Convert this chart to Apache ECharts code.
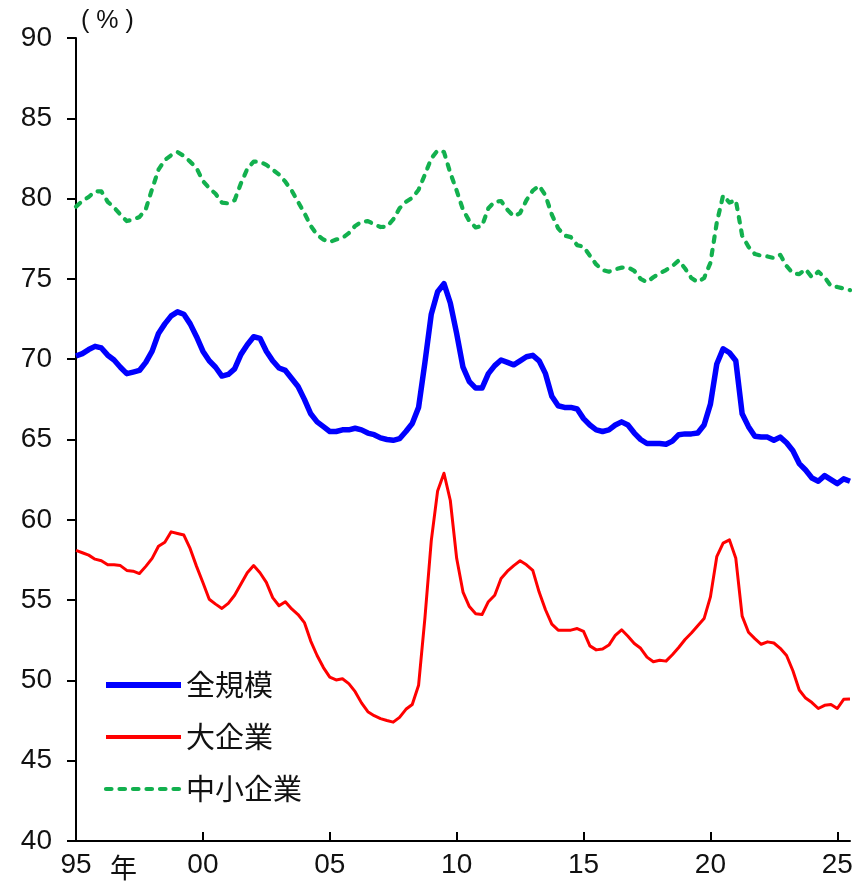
<!DOCTYPE html>
<html>
<head>
<meta charset="utf-8">
<script src="https://cdn.jsdelivr.net/npm/echarts@6/dist/echarts.min.js"></script>
<style>
  html, body { margin: 0; padding: 0; background: #fff; }
  #chart { width: 868px; height: 891px; }
</style>
</head>
<body>
<div id="chart"></div>
<script>
// Quarterly series, 1995Q1 .. 2025Q3 (%)
const startYear = 1995;
const quarterCount = 123;

const allSizes = [
  70.2, 70.35, 70.6, 70.8, 70.7, 70.25, 69.95, 69.5, 69.1, 69.2,
  69.3, 69.8, 70.5, 71.6, 72.2, 72.7, 72.95, 72.8, 72.2, 71.4,
  70.5, 69.9, 69.5, 68.95, 69.05, 69.4, 70.3, 70.9, 71.4, 71.3,
  70.5, 69.9, 69.45, 69.3, 68.8, 68.3, 67.5, 66.6, 66.1, 65.8,
  65.5, 65.5, 65.6, 65.6, 65.7, 65.6, 65.4, 65.3, 65.1, 65.0,
  64.95, 65.05, 65.5, 66.0, 67.0, 69.8, 72.8, 74.2, 74.7, 73.5,
  71.6, 69.5, 68.6, 68.2, 68.2, 69.1, 69.6, 69.95, 69.8, 69.65,
  69.9, 70.15, 70.24, 69.9, 69.1, 67.7, 67.1, 67.0, 67.0, 66.9,
  66.3, 65.9, 65.6, 65.5, 65.6, 65.9, 66.1, 65.9, 65.4, 65.0,
  64.75, 64.75, 64.75, 64.7, 64.9, 65.3, 65.35, 65.35, 65.4, 65.9,
  67.2, 69.7, 70.65, 70.4, 69.9, 66.6, 65.8, 65.2, 65.15, 65.15,
  64.95, 65.15, 64.8, 64.3, 63.5, 63.1, 62.6, 62.4, 62.75, 62.5,
  62.25, 62.55, 62.4
];

const largeFirms = [
  58.1, 57.95, 57.8, 57.55, 57.45, 57.2, 57.2, 57.15, 56.85, 56.8,
  56.65, 57.1, 57.6, 58.35, 58.6, 59.25, 59.15, 59.05, 58.2, 57.1,
  56.1, 55.05, 54.75, 54.48, 54.8, 55.3, 56.0, 56.7, 57.15, 56.7,
  56.1, 55.15, 54.65, 54.9, 54.45, 54.1, 53.6, 52.45, 51.55, 50.8,
  50.2, 50.03, 50.1, 49.8, 49.3, 48.6, 48.05, 47.8, 47.62, 47.5,
  47.4, 47.7, 48.2, 48.5, 49.7, 53.9, 58.7, 61.8, 62.9, 61.2,
  57.6, 55.5, 54.6, 54.15, 54.1, 54.9, 55.3, 56.35, 56.8, 57.15,
  57.45, 57.2, 56.85, 55.5, 54.4, 53.5, 53.13, 53.13, 53.13, 53.23,
  53.05, 52.15, 51.9, 51.95, 52.2, 52.8, 53.15, 52.75, 52.3, 52.0,
  51.45, 51.16, 51.25, 51.2, 51.6, 52.05, 52.55, 52.95, 53.4, 53.85,
  55.2, 57.7, 58.55, 58.75, 57.6, 54.0, 53.0, 52.6, 52.25, 52.4,
  52.33, 52.0, 51.55, 50.6, 49.4, 48.9, 48.62, 48.25, 48.45, 48.5,
  48.25, 48.82, 48.84
];

const smallFirms = [
  79.5, 79.85, 80.1, 80.45, 80.45, 79.8, 79.45, 79.0, 78.6, 78.7,
  78.85, 79.35, 80.6, 81.8, 82.4, 82.7, 82.9, 82.65, 82.3, 81.9,
  81.1, 80.65, 80.3, 79.75, 79.7, 79.9, 80.95, 81.85, 82.3, 82.3,
  82.1, 81.8, 81.5, 81.05, 80.5, 79.8, 79.1, 78.3, 77.75, 77.45,
  77.3, 77.45, 77.55, 77.85, 78.3, 78.55, 78.6, 78.4, 78.23, 78.25,
  78.7, 79.4, 79.8, 80.05, 80.55, 81.5, 82.5, 83.0, 82.9, 81.6,
  80.5, 79.3, 78.6, 78.2, 78.3, 79.4, 79.8, 79.85, 79.3, 78.9,
  79.1, 79.9, 80.5, 80.8, 80.2, 79.0, 78.15, 77.7, 77.6, 77.1,
  77.0, 76.45, 75.9, 75.55, 75.45, 75.6, 75.7, 75.72, 75.5, 75.0,
  74.8, 75.1, 75.35, 75.55, 75.8, 76.15, 75.65, 75.05, 74.8, 75.05,
  76.0, 78.5, 80.2, 79.75, 79.9, 77.7, 77.0, 76.55, 76.45, 76.4,
  76.3, 76.5, 75.8, 75.35, 75.3, 75.6, 75.1, 75.45, 75.1, 74.55,
  74.5, 74.4, 74.3
];

const seriesNames = ['全規模', '大企業', '中小企業'];
const yearTickLabels = ['95', '00', '05', '10', '15', '20', '25'];

// Quarter categories, e.g. "1995Q1"
const quarters = [];
for (let i = 0; i < quarterCount; i++) {
  quarters.push((startYear + Math.floor(i / 4)) + 'Q' + (i % 4 + 1));
}

const latin = '"Liberation Sans", Arial, sans-serif';
const cjk = '"Noto Sans CJK JP", "Noto Sans", sans-serif';
const isYearTick = (idx) => idx % 20 === 0;

const blueStyle = { color: '#0000ff', width: 5.5, join: 'round' };
const redStyle = { color: '#ff0000', width: 3, join: 'round' };
const greenStyle = { color: '#12b04e', width: 4.2, type: [5.5, 8], cap: 'round', join: 'round' };

const chart = echarts.init(document.getElementById('chart'), null, { renderer: 'canvas' });

chart.setOption({
  animation: false,
  backgroundColor: '#ffffff',
  grid: { left: 76, top: 38, width: 774, height: 803, containLabel: false },
  legend: {
    orient: 'vertical',
    left: 103,
    top: 670,
    padding: 0,
    itemWidth: 75,
    itemHeight: 20,
    itemGap: 22,
    itemStyle: { opacity: 0 },
    data: [
      { name: seriesNames[0], lineStyle: { width: 6 } },
      { name: seriesNames[1], lineStyle: { width: 4 } },
      { name: seriesNames[2], lineStyle: { width: 4.2 } }
    ],
    textStyle: { fontFamily: cjk, fontSize: 29, color: '#111', lineHeight: 30 }
  },
  xAxis: {
    type: 'category',
    data: quarters,
    boundaryGap: false,
    axisLine: { lineStyle: { color: '#000', width: 2 } },
    axisTick: { inside: true, length: 9, interval: (idx) => isYearTick(idx), lineStyle: { color: '#000', width: 2 } },
    axisLabel: {
      interval: (idx) => isYearTick(idx),
      formatter: (val, idx) => yearTickLabels[idx / 20],
      margin: 10,
      color: '#111',
      fontFamily: latin,
      fontSize: 28
    },
    splitLine: { show: false }
  },
  yAxis: {
    type: 'value',
    min: 40,
    max: 90,
    interval: 5,
    axisLine: { show: true, lineStyle: { color: '#000', width: 2 } },
    axisTick: { show: true, length: 9, lineStyle: { color: '#000', width: 2 } },
    axisLabel: { margin: 24, color: '#111', fontFamily: latin, fontSize: 28 },
    splitLine: { show: false }
  },
  graphic: [
    { type: 'text', x: 81, y: 21, style: { text: '( % )', fontFamily: latin, fontSize: 25, fill: '#111', verticalAlign: 'middle' } },
    { type: 'text', x: 110, y: 868, style: { text: '年', fontFamily: cjk, fontSize: 27, fill: '#111', verticalAlign: 'middle' } }
  ],
  series: [
    {
      name: seriesNames[0], type: 'line', data: allSizes, symbol: 'none',
      lineStyle: blueStyle, itemStyle: { color: blueStyle.color }, z: 3
    },
    {
      name: seriesNames[1], type: 'line', data: largeFirms, symbol: 'none',
      lineStyle: redStyle, itemStyle: { color: redStyle.color }, z: 2
    },
    {
      name: seriesNames[2], type: 'line', data: smallFirms, symbol: 'none',
      lineStyle: greenStyle, itemStyle: { color: greenStyle.color }, z: 2
    }
  ]
});
</script>
</body>
</html>
